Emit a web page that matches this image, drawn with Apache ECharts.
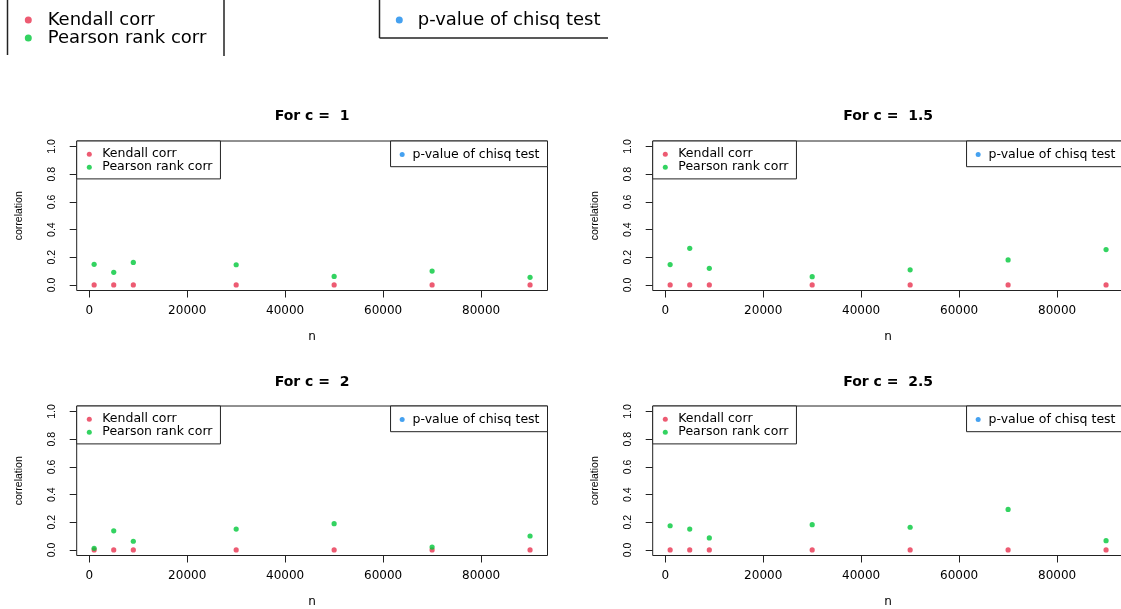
<!DOCTYPE html>
<html>
<head>
<meta charset="utf-8">
<script src="https://cdn.jsdelivr.net/npm/echarts@6/dist/echarts.min.js"></script>
<style>
html,body{margin:0;padding:0;background:#fff;}
#chart{width:1121px;height:609px;}
</style>
</head>
<body>
<div id="chart"></div>
<script>
// ---- data ----
const nValues = [1000, 5000, 9000, 30000, 50000, 70000, 90000];
const panelTitles = ['For c =  1', 'For c =  1.5', 'For c =  2', 'For c =  2.5'];
const kendallC1 = [0, 0, 0, 0, 0, 0, 0];
const kendallC15 = [0, 0, 0, 0, 0, 0, 0];
const kendallC2 = [0, 0, 0, 0, 0, 0, 0];
const kendallC25 = [0, 0, 0, 0, 0, 0, 0];
const pearsonC1 = [0.149, 0.091, 0.163, 0.146, 0.062, 0.100, 0.055];
const pearsonC15 = [0.147, 0.265, 0.120, 0.060, 0.109, 0.181, 0.256];
const pearsonC2 = [0.012, 0.138, 0.063, 0.151, 0.190, 0.021, 0.101];
const pearsonC25 = [0.175, 0.151, 0.087, 0.183, 0.164, 0.293, 0.067];
const pValues = [];
const xTicks = [0, 20000, 40000, 60000, 80000];
const yTicks = [0, 0.2, 0.4, 0.6, 0.8, 1.0];
const seriesNames = ['Kendall corr', 'Pearson rank corr', 'p-value of chisq test'];

// ---- styling / layout ----
const kendallSets = [kendallC1, kendallC15, kendallC2, kendallC25];
const pearsonSets = [pearsonC1, pearsonC15, pearsonC2, pearsonC25];
const colors = ['#E8324F', '#00C83A', '#1689EC'];
const lineCol = '#222';
const FONT = 'DejaVu Sans';
const RFONT = 'Liberation Sans';
const PW = 470.8, PH = 149.5;
const lefts = [76.7, 652.7, 76.7, 652.7];
const tops = [141, 141, 406, 406];
const titleY = [109, 109, 375, 375];
const W = 1121;

const pairs = (ys) => nValues.map((x, i) => [x, ys[i]]);

const grid = [], xAxis = [], yAxis = [], series = [], title = [], legend = [];
for (let p = 0; p < 4; p++) {
  grid.push({left: lefts[p], top: tops[p], width: PW, height: PH, show: true,
    borderColor: lineCol, borderWidth: 1, backgroundColor: 'transparent', outerBoundsMode: 'none', containLabel: false});
  xAxis.push({type: 'value', gridIndex: p, min: -2560, max: 93560,
    name: 'n', nameLocation: 'middle', nameGap: 40.5,
    nameTextStyle: {fontFamily: FONT, fontSize: 12, color: '#000'},
    axisLine: {show: false, onZero: false},
    axisTick: {show: true, inside: false, length: 7, customValues: xTicks, lineStyle: {color: lineCol, width: 1}},
    axisLabel: {customValues: xTicks, margin: 14, fontFamily: FONT, fontSize: 12, color: '#000',
      formatter: v => String(v)},
    splitLine: {show: false}});
  yAxis.push({type: 'value', gridIndex: p, min: -0.04, max: 1.04,
    name: 'correlation', nameLocation: 'middle', nameGap: 52.5, nameRotate: 90,
    nameTextStyle: {fontFamily: RFONT, fontSize: 10.5, color: '#000'},
    axisLine: {show: false, onZero: false},
    axisTick: {show: true, inside: false, length: 7, customValues: yTicks, lineStyle: {color: lineCol, width: 1}},
    axisLabel: {customValues: yTicks, rotate: 90, margin: 19.5, fontFamily: RFONT, fontSize: 10.5, color: '#000',
      formatter: v => v.toFixed(1)},
    splitLine: {show: false}});
  series.push({name: seriesNames[0], type: 'scatter', xAxisIndex: p, yAxisIndex: p, symbolSize: 5.2,
    itemStyle: {color: colors[0]}, data: pairs(kendallSets[p]), animation: false});
  series.push({name: seriesNames[1], type: 'scatter', xAxisIndex: p, yAxisIndex: p, symbolSize: 5.2,
    itemStyle: {color: colors[1]}, data: pairs(pearsonSets[p]), animation: false});
  series.push({name: seriesNames[2], type: 'scatter', xAxisIndex: p, yAxisIndex: p, symbolSize: 5.2,
    itemStyle: {color: colors[2]}, data: pValues, animation: false});
  title.push({text: panelTitles[p], left: lefts[p] + PW / 2, top: titleY[p], textAlign: 'center', padding: 0,
    textStyle: {fontFamily: FONT, fontWeight: 'bold', fontSize: 14, color: '#000'}});
  // top-left legend box in panel
  legend.push({data: [seriesNames[0], seriesNames[1]], orient: 'vertical', left: lefts[p], top: tops[p],
    icon: 'circle', itemWidth: 5, itemHeight: 5, itemGap: 0, selectedMode: false,
    padding: [6.7, 8, 5.2, 10.1], borderColor: lineCol, borderWidth: 1, backgroundColor: '#fff',
    textStyle: {fontFamily: FONT, fontSize: 12.5, lineHeight: 12, color: '#000', padding: [0, 0, 0, 5.5]}});
  // top-right legend box in panel
  legend.push({data: [seriesNames[2]], orient: 'vertical', right: W - (lefts[p] + PW), top: tops[p],
    icon: 'circle', itemWidth: 5, itemHeight: 5, itemGap: 0, selectedMode: false,
    padding: [7, 8, 5.7, 9.1], borderColor: lineCol, borderWidth: 1, backgroundColor: '#fff',
    textStyle: {fontFamily: FONT, fontSize: 12.5, lineHeight: 12, color: '#000', padding: [0, 0, 0, 2.9]}});
}
// top band (clipped outer legend)
legend.push({data: [seriesNames[0], seriesNames[1]], orient: 'vertical', left: 24.8, top: 11,
  icon: 'circle', itemWidth: 7, itemHeight: 7, itemGap: 0, selectedMode: false, padding: 0,
  textStyle: {fontFamily: FONT, fontSize: 18, lineHeight: 18, color: '#000', padding: [0, 0, 0, 10.9]}});
legend.push({data: [seriesNames[2]], orient: 'vertical', left: 395.8, top: 11,
  icon: 'circle', itemWidth: 7, itemHeight: 7, itemGap: 0, selectedMode: false, padding: 0,
  textStyle: {fontFamily: FONT, fontSize: 18, lineHeight: 18, color: '#000', padding: [0, 0, 0, 9.9]}});

const ls = {stroke: lineCol, lineWidth: 1.5};
const graphic = [
  {type: 'line', shape: {x1: 7.5, y1: 0, x2: 7.5, y2: 55}, style: ls, silent: true},
  {type: 'line', shape: {x1: 224, y1: 0, x2: 224, y2: 56}, style: ls, silent: true},
  {type: 'line', shape: {x1: 379.5, y1: 0, x2: 379.5, y2: 38}, style: ls, silent: true},
  {type: 'line', shape: {x1: 379.5, y1: 38, x2: 608, y2: 38}, style: ls, silent: true}
];

const chart = echarts.init(document.getElementById('chart'), null, {renderer: 'canvas'});
chart.setOption({backgroundColor: '#fff', animation: false, grid, xAxis, yAxis, series, title, legend, graphic});
</script>
</body>
</html>
